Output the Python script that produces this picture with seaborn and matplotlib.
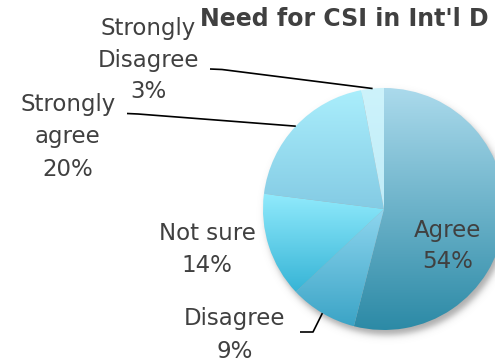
import numpy as np
import matplotlib
matplotlib.use("Agg")
import matplotlib.pyplot as plt
from matplotlib.colors import to_rgb
import seaborn as sns

# Survey answers
categories = ["Agree", "Disagree", "Not sure", "Strongly agree", "Strongly Disagree"]
label_lines = ["Agree", "Disagree", "Not sure", "Strongly\nagree", "Strongly\nDisagree"]
shares = [54, 9, 14, 20, 3]
title = "Need for CSI in Int'l D"

# Vertical gradient per slice: colour at the top and at the bottom of each wedge
top_colors = ["#abdaec", "#8fd6ef", "#90eafc", "#aaeefc", "#cdf3fb"]
bottom_colors = ["#2c8aa6", "#3ba4c6", "#36b4d6", "#84cbe4", "#c0ecf8"]

sns.set_theme(style="white")
plt.rcParams["font.family"] = ["DejaVu Sans"]
TEXT = "#404040"

W, H = 495, 364
fig = plt.figure(figsize=(W / 100, H / 100), dpi=100)
ax = fig.add_axes([0, 0, 1, 1])

cx, cy, R = 384, H - 209, 121

wedges, _ = ax.pie(shares, startangle=90, counterclock=False,
                   center=(cx, cy), radius=R,
                   wedgeprops=dict(linewidth=0))

# soft drop shadow under the pie
yy, xx = np.mgrid[0:H, 0:W] + 0.5
d = np.hypot(xx - (cx + 3), yy - (cy - 5)) - R
alpha = 0.5 * 0.5 * (1 - np.tanh(d / 4.0))
shadow = np.zeros((H, W, 4))
shadow[..., :3] = 0.35
shadow[..., 3] = alpha
ax.imshow(shadow, extent=(0, W, 0, H), origin="lower", aspect="auto",
          interpolation="bilinear", zorder=0)

# gradient fill clipped to each wedge
t = np.linspace(0, 1, 256)[:, None]
for w, c0, c1 in zip(wedges, top_colors, bottom_colors):
    w.set_facecolor("none")
    w.set_zorder(2)
    ext = w.get_path().get_extents()
    rgb = (1 - t) * np.array(to_rgb(c0)) + t * np.array(to_rgb(c1))
    im = ax.imshow(rgb[:, None, :], extent=(ext.x0, ext.x1, ext.y0, ext.y1),
                   origin="upper", aspect="auto", interpolation="bilinear",
                   zorder=1)
    im.set_clip_path(w)

ax.set_xlim(0, W)
ax.set_ylim(0, H)
ax.set_aspect("auto")
ax.axis("off")


def edge_point(w):
    mid = np.deg2rad((w.theta1 + w.theta2) / 2)
    return cx + R * np.cos(mid), cy + R * np.sin(mid)


# label block centres (x, y from top) and leader-line start / elbow
label_pos = {
    "Agree": (448, 246),
    "Disagree": (235, 335),
    "Not sure": (207, 250),
    "Strongly agree": (68, 137),
    "Strongly Disagree": (148, 60),
}
leaders = {
    "Disagree": [(300, 332), (313, 332)],
    "Strongly agree": [(127, 113.5), (138, 114)],
    "Strongly Disagree": [(210, 69), (222, 69.5)],
}

for w, cat, lab, val in zip(wedges, categories, label_lines, shares):
    x, y = label_pos[cat]
    ax.text(x, H - y, f"{lab}\n{val}%", ha="center", va="center",
            fontsize=16.5, color=TEXT, linespacing=1.5, zorder=5)
    if cat in leaders:
        pts = [(px, H - py) for px, py in leaders[cat]] + [edge_point(w)]
        xs, ys = zip(*pts)
        ax.plot(xs, ys, color="black", lw=1.2, zorder=4,
                solid_capstyle="butt")

ax.text(200, H - 18.5, title, ha="left", va="center", fontsize=17,
        fontweight="bold", color=TEXT, zorder=6)

fig.savefig("out.png", dpi=100)
